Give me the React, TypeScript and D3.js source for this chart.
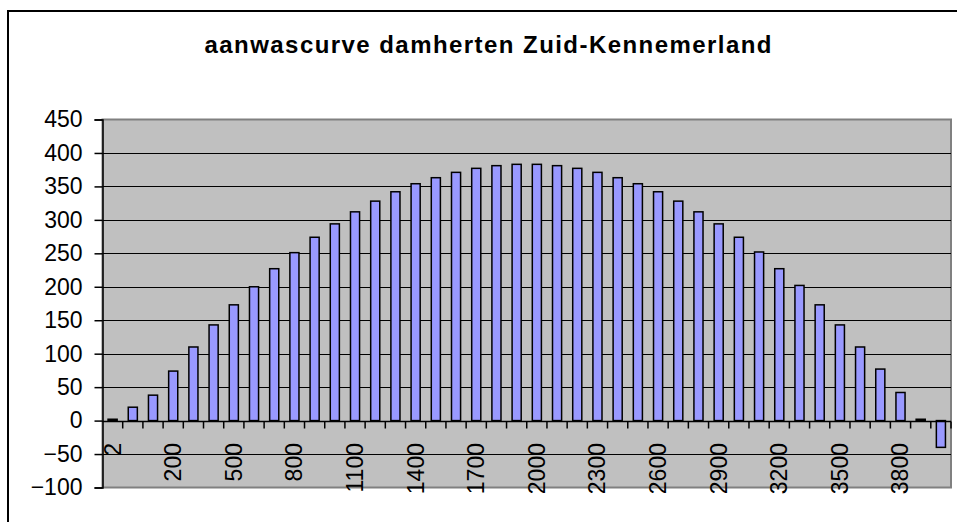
import React, { useEffect, useRef } from 'react';
import * as d3 from 'd3';

const title = 'aanwascurve damherten Zuid-Kennemerland';

const categories = [
  '2', '0', '100', '200', '300', '400', '500', '600', '700', '800',
  '900', '1000', '1100', '1200', '1300', '1400', '1500', '1600', '1700', '1800',
  '1900', '2000', '2100', '2200', '2300', '2400', '2500', '2600', '2700', '2800',
  '2900', '3000', '3100', '3200', '3300', '3400', '3500', '3600', '3700', '3800',
  '3900', '4000',
];

const values = [
  2, 20, 38, 74, 110, 143, 173, 200, 227, 251,
  274, 294, 312, 328, 342, 354, 363, 371, 377, 381,
  383, 383, 381, 377, 371, 363, 354, 342, 328, 312,
  294, 274, 252, 227, 202, 173, 143, 110, 77, 42,
  2, -40,
];

const yTicks = [-100, -50, 0, 50, 100, 150, 200, 250, 300, 350, 400, 450];

const App = () => {
  const ref = useRef<SVGSVGElement>(null);

  useEffect(() => {
    const svg = d3.select(ref.current);
    svg.selectAll('*').remove();

    const W = 957;
    const H = 522;
    const plot = { left: 102.5, top: 119.5, right: 951, bottom: 487.5 };
    const font = 'Arial, "Liberation Sans", sans-serif';

    svg.append('rect').attr('width', W).attr('height', H).attr('fill', '#fff');

    // outer chart frame (cut off on the right and bottom)
    svg.append('rect')
      .attr('x', 8).attr('y', 11)
      .attr('width', 980).attr('height', 540)
      .attr('fill', 'none')
      .attr('stroke', '#000')
      .attr('stroke-width', 2);

    svg.append('text')
      .attr('x', 488)
      .attr('y', 53)
      .attr('text-anchor', 'middle')
      .attr('font-family', font)
      .attr('font-weight', 'bold')
      .attr('font-size', 24)
      .attr('textLength', 567)
      .attr('lengthAdjust', 'spacing')
      .text(title);

    const x = d3.scaleBand<string>()
      .domain(categories)
      .range([plot.left, plot.right])
      .paddingInner(0.55)
      .paddingOuter(0.275);

    const y = d3.scaleLinear().domain([-100, 450]).range([plot.bottom, plot.top]);

    // plot area
    svg.append('rect')
      .attr('x', plot.left).attr('y', plot.top)
      .attr('width', plot.right - plot.left)
      .attr('height', plot.bottom - plot.top)
      .attr('fill', '#c0c0c0')
      .attr('stroke', '#808080')
      .attr('stroke-width', 2);

    // gridlines
    svg.append('g')
      .selectAll('line')
      .data(yTicks.filter(d => d !== 450 && d !== -100))
      .enter()
      .append('line')
      .attr('x1', plot.left).attr('x2', plot.right)
      .attr('y1', d => Math.round(y(d)) + 0.5)
      .attr('y2', d => Math.round(y(d)) + 0.5)
      .attr('stroke', '#000')
      .attr('stroke-width', 1);

    // bars
    svg.append('g')
      .selectAll('rect')
      .data(values)
      .enter()
      .append('rect')
      .attr('x', (d, i) => x(categories[i]))
      .attr('y', d => y(Math.max(0, d)))
      .attr('width', x.bandwidth())
      .attr('height', d => Math.abs(y(d) - y(0)))
      .attr('fill', '#9999ff')
      .attr('stroke', '#000')
      .attr('stroke-width', 1.5);

    // y axis
    const yAxis = svg.append('g')
      .attr('transform', `translate(${plot.left},0)`)
      .call(d3.axisLeft(y).tickValues(yTicks).tickSize(8).tickPadding(12).tickFormat(d3.format('d')));
    yAxis.select('.domain').attr('stroke', '#000').attr('stroke-width', 1.5);
    yAxis.selectAll('.tick line').attr('stroke', '#000').attr('stroke-width', 1.5);
    yAxis.selectAll('.tick text')
      .attr('font-family', font)
      .attr('font-size', 23)
      .attr('fill', '#000');

    // x axis at zero with ticks at category boundaries
    const y0 = Math.round(y(0)) + 0.5;
    svg.append('line')
      .attr('x1', plot.left).attr('x2', plot.right)
      .attr('y1', y0).attr('y2', y0)
      .attr('stroke', '#000')
      .attr('stroke-width', 1.5);

    const step = x.step();
    svg.append('g')
      .selectAll('line')
      .data(categories)
      .enter()
      .append('line')
      .attr('x1', (d, i) => plot.left + step * (i + 1))
      .attr('x2', (d, i) => plot.left + step * (i + 1))
      .attr('y1', y0)
      .attr('y2', y0 + 7)
      .attr('stroke', '#000')
      .attr('stroke-width', 1.5);

    svg.append('g')
      .selectAll('text')
      .data(categories.filter((d, i) => i % 3 === 0))
      .enter()
      .append('text')
      .attr('transform', d => `translate(${x(d)! + x.bandwidth() / 2 + 8},443) rotate(-90)`)
      .attr('text-anchor', 'end')
      .attr('font-family', font)
      .attr('font-size', 23)
      .attr('fill', '#000')
      .text(d => d);
  }, []);

  return (
    <svg
      ref={ref}
      width={957}
      height={522}
      style={{ position: 'absolute', left: 0, top: 0 }}
    />
  );
};

export default App;
